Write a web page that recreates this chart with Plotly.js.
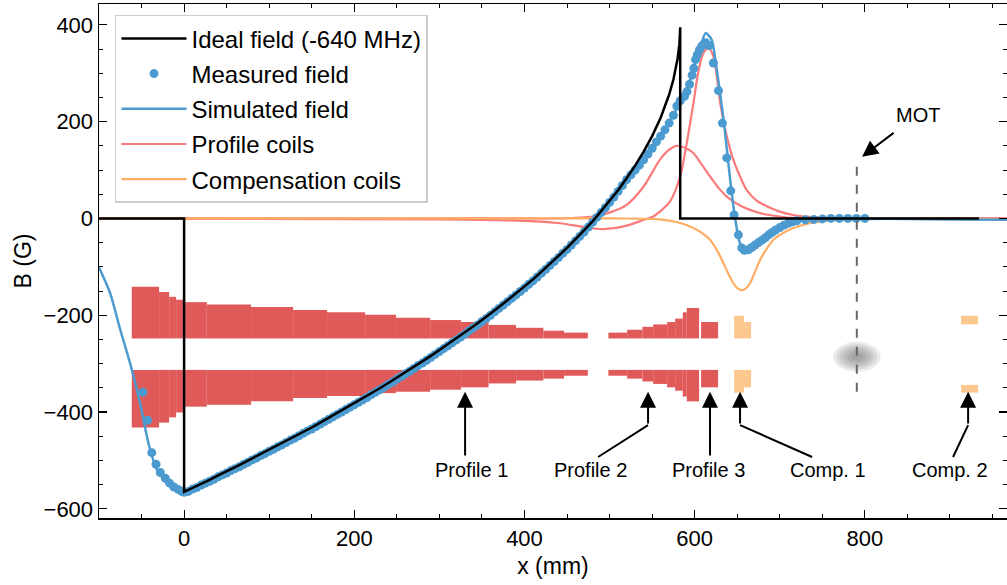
<!DOCTYPE html>
<html><head><meta charset="utf-8">
<script src="https://cdn.plot.ly/plotly-3.0.1.min.js"></script>
<style>html,body{margin:0;padding:0;background:#fff}#chart{width:1007px;height:585px}</style>
</head><body><div id="chart"></div>
<script>
// ---------- Ideal field (-640 MHz) ----------
const idealX = [-100, 0, 0, 10, 20, 30, 40, 50, 60, 70, 80, 90, 100, 110, 120, 130, 140, 150, 160, 170, 180, 190, 200, 210, 220, 230, 240, 250, 260, 270, 280, 290, 300, 310, 320, 330, 340, 350, 360, 370, 380, 390, 400, 410, 420, 430, 440, 450, 460, 470, 480, 490, 500, 510, 520, 530, 540, 550, 560, 565, 570, 575, 578, 580, 582, 583, 583, 934];
const idealB = [0, 0, -565, -557, -548, -540, -531, -523, -514, -505, -496, -487, -478, -469, -460, -451, -441, -432, -422, -412, -402, -392, -382, -372, -362, -351, -340, -329, -318, -307, -296, -284, -272, -260, -248, -236, -223, -210, -197, -183, -169, -155, -141, -126, -110, -94, -78, -61, -43, -25, -6, 15, 36, 58, 83, 109, 138, 170, 208, 230, 256, 287, 311, 331, 360, 395, 0, 0];

// ---------- Measured field ----------
const measX = [-48.5, -43, -38, -33, -28, -22, -17, -12, -7, -3,
  0, 5, 10, 15, 20, 25, 30, 35, 40, 45, 50, 55, 60, 65, 70, 75, 80, 85, 90, 95, 100, 105, 110, 115, 120, 125, 130, 135, 140, 145, 150, 155, 160, 165, 170, 175, 180, 185, 190, 195, 200, 205, 210, 215, 220, 225, 230, 235, 240, 245, 250, 255, 260, 265, 270, 275, 280, 285, 290, 295, 300, 305, 310, 315, 320, 325, 330, 335, 340, 345, 350, 355, 360, 365, 370, 375, 380, 385, 390, 395, 400, 405, 410, 415, 420, 425, 430, 435, 440, 445, 450, 455, 460, 465, 470, 475, 480, 485, 490, 495, 500, 505, 510, 515, 520,
  525, 530, 535, 540, 545, 550, 555, 560, 565, 570, 575, 579, 583, 588, 591, 594, 597, 599, 601, 603, 605.5, 608, 610, 613, 617, 622, 628, 632.6, 637.7, 642.4, 646.3, 651.4, 655.3, 658.4, 663, 667, 671, 675, 679, 683, 687, 691, 695, 700, 705, 710, 715, 720, 730, 740, 750, 760, 770, 780, 790, 800];
const measB = [-359, -417, -484, -508, -525, -537, -547, -555, -560, -564,
  -566, -564, -559, -556, -551, -547, -543, -539, -534, -530, -526, -521, -517, -513, -508, -504, -499, -495, -490, -486, -481, -477, -472, -468, -463, -458, -454, -449, -444, -439, -435, -430, -425, -420, -415, -410, -405, -400, -395, -390, -385, -380, -375, -370, -364, -359, -354, -349, -343, -338, -332, -327, -321, -316, -310, -304, -299, -293, -287, -281, -275, -269, -263, -257, -251, -245, -239, -232, -226, -220, -213, -207, -200, -193, -186, -179, -172, -165, -158, -151, -144, -136, -129, -121, -113, -105, -97, -89, -81, -72, -64, -55, -46, -37, -28, -18, -8, 2, 12, 22, 33, 44, 56, 68, 80,
  90, 100, 110, 121, 133, 145, 158, 170, 183, 197, 213, 232, 243, 252, 262, 277, 296, 310, 328, 338, 348, 355, 359, 363, 357, 321, 264, 197, 125, 57, 7, -34, -61, -66, -65, -60, -55, -50, -45, -40, -34, -29, -24, -19, -14, -10, -7, -5, -3, -2, -1, 0, 0, 0, 0, 0];

// ---------- Simulated field ----------
const simX = [-100, -87, -75, -63.5, -51.7, -42, -32, -20, -10, -4.7, 0, 20, 40, 60, 80, 100, 120, 140, 160, 180, 200, 220, 240, 260, 280, 300, 320, 340, 360, 380, 400, 420, 440, 460, 480, 500, 520, 530, 540, 550, 560, 570, 580, 590, 600, 606, 613, 620, 626, 634, 642, 648, 653, 661, 670, 677, 685, 696, 716, 755, 800, 850, 900, 975];
const simB = [-101, -154, -230, -299, -382, -464, -519, -547, -559, -564, -566, -551, -534, -517, -499, -481, -463, -444, -425, -405, -385, -364, -343, -321, -299, -275, -251, -226, -200, -172, -144, -113, -81, -46, -8, 33, 80, 101, 123, 146, 172, 198, 230, 262, 318, 352, 383, 369, 307, 204, 75, -5, -50, -68, -60, -51, -38, -24, -6, -2, -1, -1, -2, -3];

// ---------- Profile coils (fields) ----------
const profAX = [-100, 400, 442, 481, 500, 520, 540, 559, 570, 579, 590, 598.5, 608, 618, 628, 637.7, 655, 677, 700, 716, 760, 975];
const profAB = [0, 0, 0, 4, 12, 28, 66, 121, 142, 150, 145, 135, 112, 87, 63, 45, 25, 11, 4, 1, 0, 0];
const profBX = [-100, 300, 400, 442, 470, 492.7, 520, 540, 551.5, 571, 583, 590.7, 598.5, 604, 610, 616, 622, 630, 637, 645.5, 653, 661, 672, 684.7, 700, 716, 735, 755, 800, 975];
const profBB = [0, -2, -5, -10, -18, -22, -15, -3, 4, 35, 87, 156, 238, 300, 341, 352, 335, 238, 175, 121, 88, 59, 38, 25, 14, 7, 3, 1, 0, 0];

// ---------- Compensation coils (field) ----------
const compX = [-100, 500, 559, 580, 598.5, 610, 618, 626, 633.7, 640, 645.5, 650, 655.3, 660, 665, 670, 676.9, 685, 692.5, 705, 716, 735, 755, 780, 820, 975];
const compB = [0, 0, -2, -8, -20, -32, -44, -65, -92, -116, -134, -144, -148, -145, -134, -114, -86, -62, -44, -29, -20, -10, -5, -2, 0, -2];

// ---------- Coil windings (cross-section drawn below the curves) ----------
const coilUpperBase = -248;
const coilLowerBase = -313;
const profile1Edges = [-61.5, -29.4, -17.6, -9.4, 1.2, 26.7, 78.7, 128.1, 168, 212.7, 249.1, 289.1, 325.5, 357.8, 390.1, 422.2, 446.5, 474.4];
const profile1Top = [-141, -152, -162, -168, -173, -178, -183, -189, -194, -199, -205, -210, -214, -220, -226, -232, -236];
const profile1Bottom = [-432, -422, -411, -401, -389, -385, -378, -371, -367, -361, -358, -354, -349, -341, -335, -331, -325];
const profile2Edges = [498.6, 520.6, 538.6, 551.2, 567.6, 577.0, 586.0, 590.7, 605.2];
const profile2Top = [-236, -230, -224, -219, -214, -207, -194, -185];
const profile2Bottom = [-325, -331, -337, -342, -349, -356, -368, -378];
const profile3Edges = [607.5, 627.5];
const profile3Top = [-214];
const profile3Bottom = [-349];
const comp1Edges = [646.3, 658, 666.3];
const comp1Top = [-201, -214];
const comp1Bottom = [-360, -349];
const comp2Edges = [913, 933];
const comp2UpperLo = [-219], comp2UpperHi = [-201];
const comp2LowerLo = [-360], comp2LowerHi = [-344];

// ---------- MOT ----------
const motX = 790.5, motTop = 123, motBottom = -358, motCloudY = -286, motCloudRX = 28, motCloudRY = 31;

const BLUE = '#4c9bd0', BLACK = '#000000', SALMON = '#fb7b7b', ORANGE = '#ffad63';
const COILRED = '#e05a5a', COILORANGE = '#fdc890';

function barTrace(edges, lo, hi, color) {
  const x = [], w = [], base = [], y = [];
  for (let i = 0; i < edges.length - 1; i++) {
    x.push((edges[i] + edges[i + 1]) / 2);
    w.push(edges[i + 1] - edges[i]);
    base.push(lo[i]);
    y.push(hi[i] - lo[i]);
  }
  return {type: 'bar', x: x, y: y, base: base, width: w, marker: {color: color, line: {width: 0}},
          showlegend: false, hoverinfo: 'skip'};
}
function fill(n, v) { return new Array(n).fill(v); }

const traces = [];
traces.push(barTrace(profile1Edges, fill(profile1Top.length, coilUpperBase), profile1Top, COILRED));
traces.push(barTrace(profile1Edges, profile1Bottom, fill(profile1Bottom.length, coilLowerBase), COILRED));
traces.push(barTrace(profile2Edges, fill(profile2Top.length, coilUpperBase), profile2Top, COILRED));
traces.push(barTrace(profile2Edges, profile2Bottom, fill(profile2Bottom.length, coilLowerBase), COILRED));
traces.push(barTrace(profile3Edges, fill(1, coilUpperBase), profile3Top, COILRED));
traces.push(barTrace(profile3Edges, profile3Bottom, fill(1, coilLowerBase), COILRED));
traces.push(barTrace(comp1Edges, fill(2, coilUpperBase), comp1Top, COILORANGE));
traces.push(barTrace(comp1Edges, comp1Bottom, fill(2, coilLowerBase), COILORANGE));
traces.push(barTrace(comp2Edges, comp2UpperLo, comp2UpperHi, COILORANGE));
traces.push(barTrace(comp2Edges, comp2LowerLo, comp2LowerHi, COILORANGE));

traces.push({type: 'scatter', mode: 'lines', x: profAX, y: profAB, name: 'Profile coils', legendgroup: 'prof', legendrank: 4,
  line: {color: SALMON, width: 2.2, shape: 'spline', smoothing: 0.8}, hoverinfo: 'skip'});
traces.push({type: 'scatter', mode: 'lines', x: profBX, y: profBB, name: 'Profile coils', legendgroup: 'prof', showlegend: false,
  line: {color: SALMON, width: 2.2, shape: 'spline', smoothing: 0.8}, hoverinfo: 'skip'});
traces.push({type: 'scatter', mode: 'lines', x: compX, y: compB, name: 'Compensation coils', legendgroup: 'comp', legendrank: 5,
  line: {color: ORANGE, width: 2.2, shape: 'spline', smoothing: 0.8}, hoverinfo: 'skip'});
traces.push({type: 'scatter', mode: 'lines', x: simX, y: simB, name: 'Simulated field', legendgroup: 'sim', legendrank: 3,
  line: {color: BLUE, width: 2.5, shape: 'spline', smoothing: 0.6}, hoverinfo: 'skip'});
traces.push({type: 'scatter', mode: 'markers', x: measX, y: measB, name: 'Measured field', legendgroup: 'meas', legendrank: 2,
  marker: {color: BLUE, size: 9}, hoverinfo: 'skip'});
traces.push({type: 'scatter', mode: 'lines', x: idealX, y: idealB, name: 'Ideal field (-640 MHz)', legendgroup: 'ideal', legendrank: 1,
  line: {color: BLACK, width: 2.5}, hoverinfo: 'skip'});

const shapes = [];
[1, 0.85, 0.7, 0.55, 0.4, 0.25].forEach(s => {
  shapes.push({type: 'circle', xref: 'x', yref: 'y', x0: motX - motCloudRX * s, x1: motX + motCloudRX * s,
    y0: motCloudY - motCloudRY * s, y1: motCloudY + motCloudRY * s,
    fillcolor: 'rgba(90,90,90,0.12)', line: {width: 0}, layer: 'above'});
});
shapes.push({type: 'line', xref: 'x', yref: 'y', x0: motX, x1: motX, y0: motBottom, y1: motTop,
  line: {color: '#666666', width: 2, dash: 'dash'}, layer: 'above'});

const labelY = -519, tailY = -493, elbowY = -427, tipY = -358;
const labels = [
  {text: 'Profile 1', tx: 338, tip: 330.2, tail: 330.2},
  {text: 'Profile 2', tx: 477, tip: 545.2, tail: 486.5},
  {text: 'Profile 3', tx: 615.7, tip: 618, tail: 618},
  {text: 'Comp. 1', tx: 756.8, tip: 653.3, tail: 738},
  {text: 'Comp. 2', tx: 900, tip: 921.3, tail: 903.6}
];
const annotations = [];
labels.forEach(l => {
  let fromY = tailY;
  if (l.tail !== l.tip) {
    shapes.push({type: 'line', xref: 'x', yref: 'y', x0: l.tail, y0: tailY, x1: l.tip, y1: elbowY,
      line: {color: '#000', width: 2}, layer: 'above'});
    fromY = elbowY;
  }
  annotations.push({xref: 'x', yref: 'y', axref: 'x', ayref: 'y', x: l.tip, y: tipY, ax: l.tip, ay: fromY,
    text: '', showarrow: true, arrowhead: 2, arrowsize: 1.6, arrowwidth: 2, arrowcolor: '#000'});
  annotations.push({xref: 'x', yref: 'y', x: l.tx, y: labelY, text: l.text, showarrow: false,
    font: {size: 20, color: '#000'}});
});
annotations.push({xref: 'x', yref: 'y', axref: 'x', ayref: 'y', x: 796.7, y: 127.3, ax: 835.5, ay: 179,
  text: '', showarrow: true, arrowhead: 2, arrowsize: 1.6, arrowwidth: 2, arrowcolor: '#000'});
annotations.push({xref: 'x', yref: 'y', x: 862.5, y: 214, text: 'MOT', showarrow: false, font: {size: 20, color: '#000'}});

const axisCommon = {
  ticks: 'inside', ticklen: 8, tickwidth: 1.2, tickcolor: '#000',
  showline: true, linecolor: '#000', linewidth: 1.5, mirror: 'allticks',
  showgrid: false, zeroline: false, tickfont: {size: 22, color: '#000'},
  minor: {ticks: 'inside', ticklen: 4, tickwidth: 1, tickcolor: '#000', dtick: 50, tick0: 0, showgrid: false}
};

const layout = {
  width: 1007, height: 585,
  margin: {l: 99, r: 0, t: 4, b: 67},
  paper_bgcolor: '#fff', plot_bgcolor: '#fff',
  font: {family: 'Liberation Sans, Arial, sans-serif', color: '#000'},
  showlegend: true,
  barmode: 'overlay',
  hovermode: false,
  xaxis: Object.assign({}, axisCommon, {range: [-100, 967], dtick: 200, tick0: 0,
    title: {text: 'x (mm)', font: {size: 23}, standoff: 8}}),
  yaxis: Object.assign({}, axisCommon, {range: [-619, 443], dtick: 200, tick0: 0,
    title: {text: 'B (G)', font: {size: 23}, standoff: 5}}),
  legend: {x: 0.0176, y: 0.979, xanchor: 'left', yanchor: 'top', bgcolor: 'rgba(255,255,255,0.85)',
    bordercolor: '#cccccc', borderwidth: 1.5, font: {size: 24}, itemwidth: 65,
    traceorder: 'grouped', tracegroupgap: 1},
  shapes: shapes,
  annotations: annotations
};

Plotly.newPlot('chart', traces, layout, {displayModeBar: false, staticPlot: true});
</script></body></html>
